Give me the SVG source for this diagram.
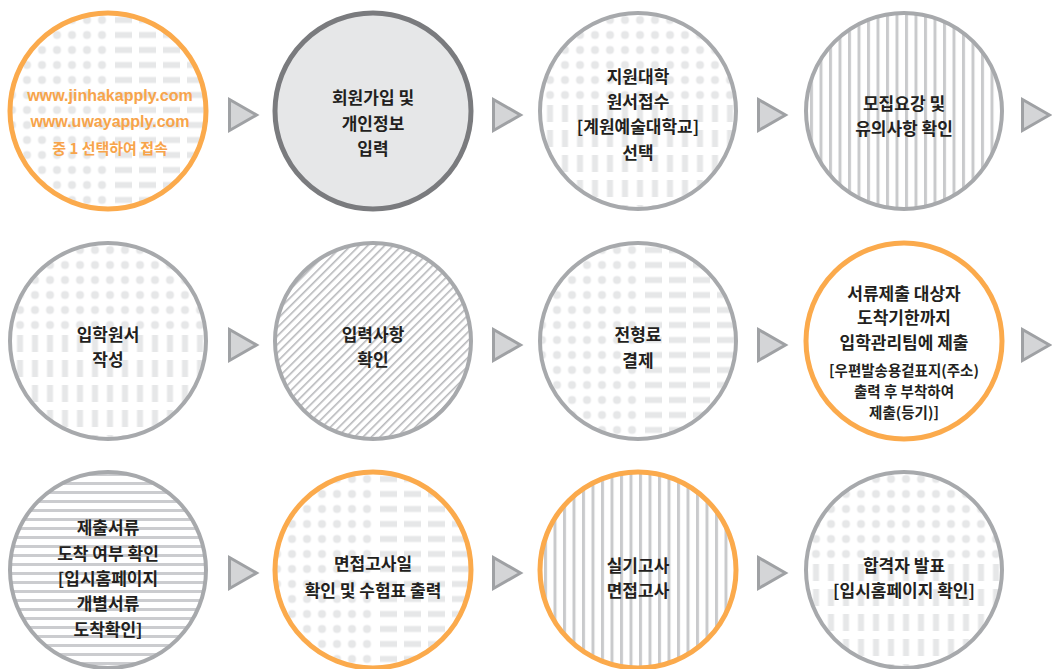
<svg xmlns="http://www.w3.org/2000/svg" width="1052" height="669" viewBox="0 0 1052 669">
<style>
.ring{fill:none;stroke:#a7a9ac;stroke-width:4}
.ring-o{fill:none;stroke:#fbaa4c;stroke-width:5}
.ring-d{fill:#e6e7e8;stroke:#7a7b7e;stroke-width:5}
.t{font-family:"Noto Sans CJK KR",sans-serif;font-weight:700;font-size:17px;fill:#231f20;text-anchor:middle;dominant-baseline:central}
.ts{font-size:14.5px}
.url{font-family:"Liberation Sans","Noto Sans CJK KR",sans-serif;font-weight:700;font-size:16px;fill:#f7a44b;text-anchor:middle;dominant-baseline:central}
.ko{font-family:"Noto Sans CJK KR",sans-serif;font-weight:700;font-size:15px;fill:#f7a44b;text-anchor:middle;dominant-baseline:central}
.arrow{fill:#d4d5d7;stroke:#9fa1a4;stroke-width:3;stroke-linejoin:miter}
</style>
<defs>
<clipPath id="cc"><circle cx="0" cy="0" r="97"/></clipPath>
<pattern id="pDotsA" width="15" height="15" patternUnits="userSpaceOnUse" x="-13.5" y="-8.5"><circle cx="7.5" cy="7.5" r="4" fill="#e6e7e8"/></pattern>
<pattern id="pHDash" width="24" height="15" patternUnits="userSpaceOnUse" x="7" y="-8.5"><rect x="0" y="4.5" width="17" height="6" fill="#e6e7e8"/></pattern>
<pattern id="pDotsB" width="15" height="15" patternUnits="userSpaceOnUse" x="-5.5" y="-8.5"><circle cx="7.5" cy="7.5" r="4" fill="#e6e7e8"/></pattern>
<pattern id="pVDash" width="15" height="25" patternUnits="userSpaceOnUse" x="-5.5" y="-6"><rect x="4.5" y="0" width="6" height="17" fill="#e6e7e8"/></pattern>
<pattern id="pVStripe" width="9.5" height="10" patternUnits="userSpaceOnUse" x="1"><rect x="0" y="0" width="3" height="10" fill="#c9cacc"/></pattern>
<pattern id="pHStripe" width="10" height="9" patternUnits="userSpaceOnUse" y="2"><rect x="0" y="0" width="10" height="3" fill="#cbcccf"/></pattern>
<pattern id="pDiag" width="6" height="10" patternUnits="userSpaceOnUse" patternTransform="rotate(45)"><rect x="0" y="0" width="1.6" height="10" fill="#b7b8bb"/></pattern>
<polygon id="arr" class="arrow" points="1.5,-15.5 28.5,0 1.5,15.5"/>
</defs>
<rect width="1052" height="669" fill="#ffffff"/>

<g id="connectors">
<use href="#arr" x="228" y="115"/>
<use href="#arr" x="492" y="115"/>
<use href="#arr" x="757" y="115"/>
<use href="#arr" x="1021" y="115"/>
<use href="#arr" x="228" y="345"/>
<use href="#arr" x="492" y="345"/>
<use href="#arr" x="757" y="345"/>
<use href="#arr" x="1021" y="345"/>
<use href="#arr" x="228" y="573"/>
<use href="#arr" x="492" y="573"/>
<use href="#arr" x="757" y="573"/>
</g>

<g id="n1" transform="translate(108,111)">
<g clip-path="url(#cc)">
<rect x="-100" y="-100" width="100" height="200" fill="url(#pDotsA)"/>
<rect x="3" y="-100" width="97" height="200" fill="url(#pHDash)"/>
</g>
<circle r="98" class="ring-o"/>
<text class="url" x="2" y="-16">www.jinhakapply.com</text>
<text class="url" x="2" y="10">www.uwayapply.com</text>
<text class="ko" x="2" y="36">중 1 선택하여 접속</text>
</g>

<g id="n2" transform="translate(373,111)">
<circle r="98" class="ring-d"/>
<text class="t" y="-15">회원가입 및</text>
<text class="t" y="11">개인정보</text>
<text class="t" y="36">입력</text>
</g>

<g id="n3" transform="translate(638,111)">
<g clip-path="url(#cc)">
<rect x="-100" y="-100" width="200" height="92" fill="url(#pDotsB)"/>
<rect x="-100" y="-6" width="200" height="106" fill="url(#pVDash)"/>
</g>
<circle r="98" class="ring"/>
<text class="t" y="-36">지원대학</text>
<text class="t" y="-11">원서접수</text>
<text class="t" y="14">[계원예술대학교]</text>
<text class="t" y="40">선택</text>
</g>

<g id="n4" transform="translate(904,111)">
<g clip-path="url(#cc)">
<rect x="-100" y="-100" width="200" height="200" fill="url(#pVStripe)"/>
</g>
<circle r="98" class="ring"/>
<text class="t" y="-9">모집요강 및</text>
<text class="t" y="16">유의사항 확인</text>
</g>

<g id="n5" transform="translate(108,341)">
<g clip-path="url(#cc)">
<rect x="-100" y="-100" width="200" height="92" fill="url(#pDotsB)"/>
<rect x="-100" y="-6" width="200" height="106" fill="url(#pVDash)"/>
</g>
<circle r="98" class="ring"/>
<text class="t" y="-8">입학원서</text>
<text class="t" y="17">작성</text>
</g>

<g id="n6" transform="translate(373,341)">
<g clip-path="url(#cc)">
<rect x="-100" y="-100" width="200" height="200" fill="url(#pDiag)"/>
</g>
<circle r="98" class="ring"/>
<text class="t" y="-8">입력사항</text>
<text class="t" y="17">확인</text>
</g>

<g id="n7" transform="translate(638,341)">
<g clip-path="url(#cc)">
<rect x="-100" y="-100" width="100" height="200" fill="url(#pDotsA)"/>
<rect x="3" y="-100" width="97" height="200" fill="url(#pHDash)"/>
</g>
<circle r="98" class="ring"/>
<text class="t" y="-8">전형료</text>
<text class="t" y="18">결제</text>
</g>

<g id="n8" transform="translate(904,341)">
<circle r="98" class="ring-o" fill="#ffffff"/>
<text class="t" y="-49">서류제출 대상자</text>
<text class="t" y="-25">도착기한까지</text>
<text class="t" y="0">입학관리팀에 제출</text>
<text class="t ts" y="28">[우편발송용겉표지(주소)</text>
<text class="t ts" y="49">출력 후 부착하여</text>
<text class="t ts" y="70">제출(등기)]</text>
</g>

<g id="n9" transform="translate(108,570)">
<g clip-path="url(#cc)">
<rect x="-100" y="-100" width="200" height="200" fill="url(#pHStripe)"/>
</g>
<circle r="98" class="ring"/>
<text class="t" y="-44">제출서류</text>
<text class="t" y="-18">도착 여부 확인</text>
<text class="t" y="7">[입시홈페이지</text>
<text class="t" y="32">개별서류</text>
<text class="t" y="58">도착확인]</text>
</g>

<g id="n10" transform="translate(373,570)">
<g clip-path="url(#cc)">
<rect x="-100" y="-100" width="100" height="200" fill="url(#pDotsA)"/>
<rect x="3" y="-100" width="97" height="200" fill="url(#pHDash)"/>
</g>
<circle r="98" class="ring-o"/>
<text class="t" y="-8">면접고사일</text>
<text class="t" y="19">확인 및 수험표 출력</text>
</g>

<g id="n11" transform="translate(638,570)">
<g clip-path="url(#cc)">
<rect x="-100" y="-100" width="200" height="200" fill="url(#pVStripe)"/>
</g>
<circle r="98" class="ring-o"/>
<text class="t" y="-6">실기고사</text>
<text class="t" y="19">면접고사</text>
</g>

<g id="n12" transform="translate(904,570)">
<g clip-path="url(#cc)">
<rect x="-100" y="-100" width="200" height="92" fill="url(#pDotsB)"/>
<rect x="-100" y="-6" width="200" height="106" fill="url(#pVDash)"/>
</g>
<circle r="98" class="ring"/>
<text class="t" y="-6">합격자 발표</text>
<text class="t" y="19">[입시홈페이지 확인]</text>
</g>
</svg>
